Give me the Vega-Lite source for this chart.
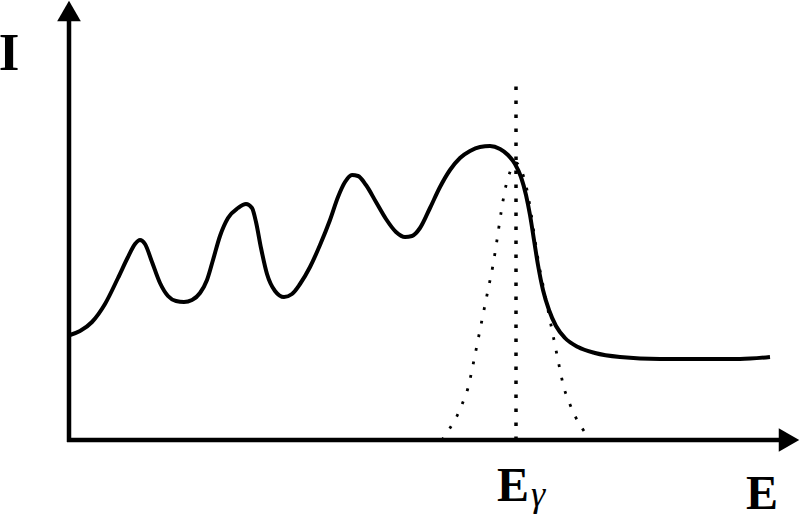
{
  "$schema": "https://vega.github.io/schema/vega-lite/v6.json",
  "width": 800,
  "height": 520,
  "autosize": {"type": "none"},
  "padding": 0,
  "background": "white",
  "config": {"view": {"stroke": null}},
  "datasets": {
    "curve": [
      {"E": 1, "I": 105}, {"E": 11, "I": 109}, {"E": 23, "I": 118}, {"E": 36, "I": 136},
      {"E": 49, "I": 162}, {"E": 59, "I": 183}, {"E": 66, "I": 196}, {"E": 71, "I": 200},
      {"E": 76, "I": 196}, {"E": 83, "I": 178}, {"E": 91, "I": 157}, {"E": 99, "I": 144},
      {"E": 107, "I": 139}, {"E": 115, "I": 138}, {"E": 123, "I": 140}, {"E": 131, "I": 147},
      {"E": 138, "I": 160}, {"E": 144, "I": 180}, {"E": 151, "I": 204}, {"E": 159, "I": 222},
      {"E": 169, "I": 232}, {"E": 177, "I": 236}, {"E": 183, "I": 232}, {"E": 187, "I": 218},
      {"E": 192, "I": 192}, {"E": 198, "I": 166}, {"E": 206, "I": 149}, {"E": 215, "I": 143},
      {"E": 223, "I": 146}, {"E": 231, "I": 156}, {"E": 241, "I": 173}, {"E": 251, "I": 195},
      {"E": 261, "I": 220}, {"E": 269, "I": 243}, {"E": 276, "I": 258}, {"E": 283, "I": 265},
      {"E": 289, "I": 264}, {"E": 297, "I": 255}, {"E": 307, "I": 238}, {"E": 317, "I": 221},
      {"E": 327, "I": 208}, {"E": 336, "I": 203}, {"E": 343, "I": 204}, {"E": 351, "I": 212},
      {"E": 361, "I": 232}, {"E": 371, "I": 253}, {"E": 381, "I": 270}, {"E": 391, "I": 282},
      {"E": 401, "I": 289}, {"E": 411, "I": 293}, {"E": 421, "I": 294}, {"E": 431, "I": 291},
      {"E": 439, "I": 285}, {"E": 446, "I": 276}, {"E": 452, "I": 263}, {"E": 457, "I": 245},
      {"E": 461, "I": 225}, {"E": 465, "I": 200}, {"E": 469, "I": 175}, {"E": 474, "I": 150},
      {"E": 480, "I": 130}, {"E": 487, "I": 114}, {"E": 496, "I": 102}, {"E": 509, "I": 93},
      {"E": 526, "I": 87}, {"E": 551, "I": 83}, {"E": 591, "I": 81}, {"E": 631, "I": 81},
      {"E": 671, "I": 81}, {"E": 701, "I": 83}
    ],
    "gauss": [
      {"E": 373, "I": 0}, {"E": 381, "I": 12}, {"E": 388, "I": 24}, {"E": 394, "I": 38},
      {"E": 399, "I": 52}, {"E": 404, "I": 75}, {"E": 409, "I": 100}, {"E": 414, "I": 125},
      {"E": 419, "I": 150}, {"E": 424, "I": 175}, {"E": 428, "I": 200}, {"E": 432, "I": 227},
      {"E": 436, "I": 250}, {"E": 441, "I": 268}, {"E": 447, "I": 277}, {"E": 453, "I": 268},
      {"E": 458, "I": 250}, {"E": 462, "I": 227}, {"E": 466, "I": 200}, {"E": 470, "I": 175},
      {"E": 475, "I": 150}, {"E": 480, "I": 125}, {"E": 485, "I": 100}, {"E": 490, "I": 75},
      {"E": 495, "I": 52}, {"E": 500, "I": 38}, {"E": 506, "I": 24}, {"E": 513, "I": 12},
      {"E": 521, "I": 0}
    ],
    "vline": [{"E": 447, "I": 0}, {"E": 447, "I": 360}],
    "axes": [
      {"E": -2, "I": 0, "E2": 711, "I2": 0},
      {"E": 0, "I": -2, "E2": 0, "I2": 420}
    ],
    "heads": [
      {"E": 0, "I": 429, "shape": "triangle-up"},
      {"E": 720, "I": 0, "shape": "triangle-right"}
    ],
    "ylabel": [{"E": -60, "I": 370, "text": "I"}],
    "xlabels": [
      {"E": 693, "I": -69, "text": "E"},
      {"E": 444, "I": -61, "text": "E"}
    ],
    "sub": [{"E": 462, "I": -66, "text": "γ"}]
  },
  "layer": [
    {
      "data": {"name": "axes"},
      "mark": {"type": "rule", "color": "black", "strokeWidth": 4.5},
      "encoding": {
        "x": {"field": "E", "type": "quantitative", "scale": {"domain": [-69, 731], "nice": false, "zero": false}, "axis": null},
        "y": {"field": "I", "type": "quantitative", "scale": {"domain": [-80, 440], "nice": false, "zero": false}, "axis": null},
        "x2": {"field": "E2"},
        "y2": {"field": "I2"}
      }
    },
    {
      "data": {"name": "heads"},
      "mark": {"type": "point", "filled": true, "color": "black", "size": 560, "opacity": 1, "strokeWidth": 0},
      "encoding": {
        "x": {"field": "E", "type": "quantitative"},
        "y": {"field": "I", "type": "quantitative"},
        "shape": {"field": "shape", "type": "nominal", "scale": null}
      }
    },
    {
      "data": {"name": "vline"},
      "mark": {"type": "line", "color": "black", "strokeWidth": 3.5, "strokeDash": [3.5, 10.5]},
      "encoding": {
        "x": {"field": "E", "type": "quantitative"},
        "y": {"field": "I", "type": "quantitative"}
      }
    },
    {
      "data": {"name": "gauss"},
      "mark": {"type": "line", "color": "black", "strokeWidth": 2.8, "strokeDash": [2.8, 11], "interpolate": "monotone"},
      "encoding": {
        "x": {"field": "E", "type": "quantitative"},
        "y": {"field": "I", "type": "quantitative"},
        "order": {"field": "E"}
      }
    },
    {
      "data": {"name": "curve"},
      "mark": {"type": "line", "color": "black", "strokeWidth": 4, "interpolate": "monotone"},
      "encoding": {
        "x": {"field": "E", "type": "quantitative"},
        "y": {"field": "I", "type": "quantitative"}
      }
    },
    {
      "data": {"name": "ylabel"},
      "mark": {"type": "text", "font": "Liberation Serif", "fontWeight": "bold", "fontSize": 53, "align": "center", "baseline": "alphabetic", "color": "black"},
      "encoding": {
        "x": {"field": "E", "type": "quantitative"},
        "y": {"field": "I", "type": "quantitative"},
        "text": {"field": "text"}
      }
    },
    {
      "data": {"name": "xlabels"},
      "mark": {"type": "text", "font": "Liberation Serif", "fontWeight": "bold", "fontSize": 48, "align": "center", "baseline": "alphabetic", "color": "black"},
      "encoding": {
        "x": {"field": "E", "type": "quantitative"},
        "y": {"field": "I", "type": "quantitative"},
        "text": {"field": "text"}
      }
    },
    {
      "data": {"name": "sub"},
      "mark": {"type": "text", "font": "Liberation Serif", "fontStyle": "italic", "fontWeight": "normal", "fontSize": 36, "align": "left", "baseline": "alphabetic", "color": "black"},
      "encoding": {
        "x": {"field": "E", "type": "quantitative"},
        "y": {"field": "I", "type": "quantitative"},
        "text": {"field": "text"}
      }
    }
  ]
}
